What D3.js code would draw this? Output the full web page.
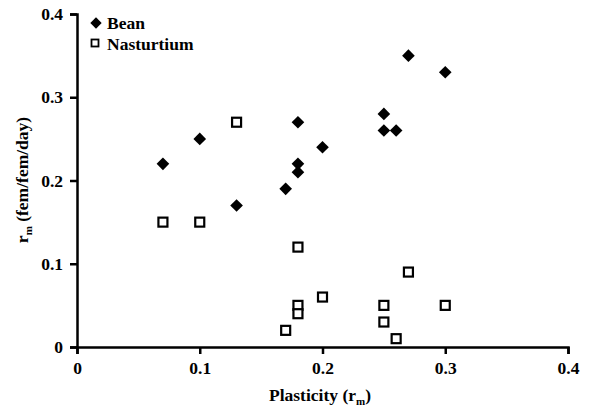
<!DOCTYPE html>
<html><head><meta charset="utf-8">
<script src="https://cdn.jsdelivr.net/npm/d3@7"></script>
<style>body{margin:0;background:#fff}svg{display:block}text{font-family:"Liberation Serif","Times New Roman",serif;font-weight:bold;fill:#000}</style>
</head><body>
<svg id="c" width="589" height="409"></svg>
<script>
const xTicks = [0, 0.1, 0.2, 0.3, 0.4];
const yTicks = [0, 0.1, 0.2, 0.3, 0.4];
const beanX = [0.07, 0.10, 0.13, 0.17, 0.18, 0.18, 0.18, 0.20, 0.25, 0.25, 0.26, 0.27, 0.30];
const beanY = [0.22, 0.25, 0.17, 0.19, 0.27, 0.22, 0.21, 0.24, 0.28, 0.26, 0.26, 0.35, 0.33];
const nastX = [0.07, 0.10, 0.13, 0.17, 0.18, 0.18, 0.18, 0.20, 0.25, 0.25, 0.26, 0.27, 0.30];
const nastY = [0.15, 0.15, 0.27, 0.02, 0.12, 0.05, 0.04, 0.06, 0.05, 0.03, 0.01, 0.09, 0.05];
const seriesNames = ["Bean", "Nasturtium"];

const svg = d3.select("#c");
const x = d3.scaleLinear().domain([0, 0.4]).range([77, 568]);
const y = d3.scaleLinear().domain([0, 0.4]).range([347, 14]);
const FS = "17.5px";

const fmt = d => d === 0 ? "0" : d3.format(".1f")(d);
const xa = svg.append("g").attr("transform", "translate(0,347)")
  .call(d3.axisBottom(x).tickValues(xTicks).tickFormat(fmt).tickSize(7).tickPadding(8));
const ya = svg.append("g").attr("transform", "translate(77,0)")
  .call(d3.axisLeft(y).tickValues(yTicks).tickFormat(fmt).tickSize(7).tickPadding(7));
[xa, ya].forEach(a => {
  a.select(".domain").attr("stroke", "#000").attr("stroke-width", 2.5);
  a.selectAll(".tick line").attr("stroke", "#000").attr("stroke-width", 2.5);
  a.selectAll(".tick text").style("font-size", FS).attr("fill", "#000");
});

const beanData = beanX.map((v, i) => [v, beanY[i]]);
const nastData = nastX.map((v, i) => [v, nastY[i]]);

svg.append("g").selectAll("path").data(beanData).join("path")
  .attr("d", d3.symbol().type(d3.symbolSquare).size(80))
  .attr("transform", d => `translate(${x(d[0])},${y(d[1])}) rotate(45)`)
  .attr("fill", "#000");

svg.append("g").selectAll("rect").data(nastData).join("rect")
  .attr("x", d => x(d[0]) - 4.5).attr("y", d => y(d[1]) - 4.5)
  .attr("width", 9).attr("height", 9)
  .attr("fill", "#fff").attr("stroke", "#000").attr("stroke-width", 2.2);

// legend
svg.append("path").attr("d", d3.symbol().type(d3.symbolSquare).size(64)())
  .attr("transform", "translate(96,23) rotate(45)").attr("fill", "#000");
svg.append("text").attr("x", 107).attr("y", 29).style("font-size", FS).text(seriesNames[0]);
svg.append("rect").attr("x", 91.5).attr("y", 39.5).attr("width", 7).attr("height", 7)
  .attr("fill", "#fff").attr("stroke", "#000").attr("stroke-width", 1.8);
svg.append("text").attr("x", 107).attr("y", 50).style("font-size", FS).text(seriesNames[1]);

// axis titles
const xt = svg.append("text").attr("x", 320).attr("y", 401).attr("text-anchor", "middle").style("font-size", FS);
xt.append("tspan").text("Plasticity (r");
xt.append("tspan").attr("dy", 4).style("font-size", "11px").text("m");
xt.append("tspan").attr("dy", -4).text(")");

const yt = svg.append("text").attr("transform", "translate(28,180) rotate(-90)").attr("text-anchor", "middle").style("font-size", FS);
yt.append("tspan").text("r");
yt.append("tspan").attr("dy", 4).style("font-size", "11px").text("m");
yt.append("tspan").attr("dy", -4).text(" (fem/fem/day)");
</script>
</body></html>
